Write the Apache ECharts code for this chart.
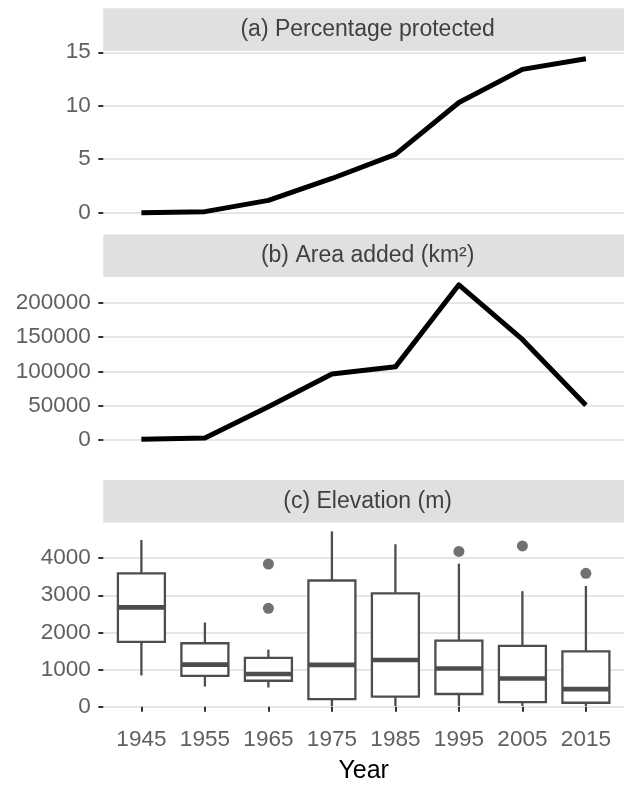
<!DOCTYPE html>
<html>
<head>
<meta charset="utf-8">
<script src="https://cdn.jsdelivr.net/npm/echarts@6/dist/echarts.min.js"></script>
<style>
  html, body { margin: 0; padding: 0; background: #fff; }
  #chart { width: 624px; height: 785px; }
</style>
</head>
<body>
<div id="chart"></div>
<script>
// Decades on the x axis
const years = [1945, 1955, 1965, 1975, 1985, 1995, 2005, 2015];

// (a) cumulative percentage of land protected
const pctProtected = [0, 0.1, 1.15, 3.2, 5.45, 10.3, 13.4, 14.4];

// (b) area added per decade, km²
const areaAdded = [1000, 2900, 48500, 96000, 106500, 226000, 146500, 50500];

// (c) elevation summary per decade, metres
const whiskerLow  = [840, 540, 515, 15, 15, 20, 20, 15];
const q1          = [1745, 828, 697, 200, 270, 340, 122, 105];
const median      = [2675, 1133, 880, 1124, 1255, 1028, 758, 471];
const q3          = [3590, 1708, 1316, 3399, 3050, 1778, 1638, 1490];
const whiskerHigh = [4488, 2266, 1534, 4723, 4375, 3852, 3111, 3251];
const outlierYears  = [1965, 1965, 1995, 2005, 2015];
const outlierValues = [3843, 2649, 4183, 4331, 3591];

// Tick labels
const xTicks = [1945, 1955, 1965, 1975, 1985, 1995, 2005, 2015];
const yTicksA = [0, 5, 10, 15];
const yTicksB = [0, 50000, 100000, 150000, 200000];
const yTicksC = [0, 1000, 2000, 3000, 4000];

const stripTitles = ['(a) Percentage protected', '(b) Area added (km²)', '(c) Elevation (m)'];

const FONT = "'Liberation Sans', Arial, Helvetica, sans-serif";
const GRID_LEFT = 103.3;
const GRID_RIGHT = -8;
const STRIP_H = 42.7;

const panels = [
  { top: 51.0, height: 169.4, ymin: -0.72, ymax: 15.12, ticks: yTicksA },
  { top: 277.1, height: 169.9, ymin: -10250, ymax: 237250, ticks: yTicksB },
  { top: 522.6, height: 198.3, ymin: -225.6, ymax: 4958.6, ticks: yTicksC }
];

const boxData = years.map((y, i) => [y, whiskerLow[i], q1[i], median[i], q3[i], whiskerHigh[i]]);
const outlierData = outlierYears.map((y, i) => [y, outlierValues[i]]);

const chart = echarts.init(document.getElementById('chart'), null, { renderer: 'canvas' });

const grids = panels.map(p => ({
  left: GRID_LEFT, right: GRID_RIGHT, top: p.top, height: p.height, containLabel: false
}));

const xAxes = panels.map((p, i) => {
  const last = i === panels.length - 1;
  return {
    type: 'value', gridIndex: i, min: 1939, max: 2021,
    axisLine: { show: false },
    splitLine: { show: false },
    axisTick: {
      show: last, length: 5, customValues: xTicks,
      lineStyle: { color: '#333333', width: 2 }
    },
    axisLabel: {
      show: last, customValues: xTicks, margin: 13,
      color: '#606060', fontSize: 22.5, fontFamily: FONT,
      formatter: v => String(v)
    },
    name: last ? 'Year' : '',
    nameLocation: 'middle', nameGap: 44,
    nameTextStyle: { color: '#000', fontSize: 25, fontFamily: FONT }
  };
});

const yAxes = panels.map((p, i) => ({
  type: 'value', gridIndex: i, min: p.ymin, max: p.ymax,
  axisLine: { show: false },
  axisTick: {
    show: true, length: 5, customValues: p.ticks,
    lineStyle: { color: '#333333', width: 2 }
  },
  axisLabel: {
    customValues: p.ticks, margin: 12.5,
    color: '#606060', fontSize: 22.5, fontFamily: FONT,
    formatter: v => String(v)
  },
  splitLine: { show: true, lineStyle: { color: '#e6e6e6', width: 1.8 } }
}));

const BOX_COLOR = '#4d4d4d';
const BOX_WIDTH_YEARS = 7.4;

const series = [
  {
    type: 'line', xAxisIndex: 0, yAxisIndex: 0,
    data: years.map((y, i) => [y, pctProtected[i]]),
    showSymbol: false, symbol: 'none',
    lineStyle: { color: '#000', width: 5, join: 'round', cap: 'butt' },
    animation: false
  },
  {
    type: 'line', xAxisIndex: 1, yAxisIndex: 1,
    data: years.map((y, i) => [y, areaAdded[i]]),
    showSymbol: false, symbol: 'none',
    lineStyle: { color: '#000', width: 5, join: 'round', cap: 'butt' },
    animation: false
  },
  {
    type: 'custom', xAxisIndex: 2, yAxisIndex: 2,
    data: boxData,
    encode: { x: 0, y: [1, 2, 3, 4, 5] },
    renderItem: function (params, api) {
      const x = api.value(0);
      const lo = api.coord([x, api.value(1)]);
      const b1 = api.coord([x, api.value(2)]);
      const md = api.coord([x, api.value(3)]);
      const b3 = api.coord([x, api.value(4)]);
      const hi = api.coord([x, api.value(5)]);
      const half = api.size([BOX_WIDTH_YEARS, 0])[0] / 2;
      const cx = lo[0];
      const thin = { stroke: BOX_COLOR, lineWidth: 2.3, fill: null };
      return {
        type: 'group',
        children: [
          { type: 'line', shape: { x1: cx, y1: lo[1], x2: cx, y2: b1[1] }, style: thin },
          { type: 'line', shape: { x1: cx, y1: b3[1], x2: cx, y2: hi[1] }, style: thin },
          { type: 'rect', shape: { x: cx - half, y: b3[1], width: half * 2, height: b1[1] - b3[1] },
            style: { stroke: BOX_COLOR, lineWidth: 2.3, fill: '#ffffff' } },
          { type: 'line', shape: { x1: cx - half, y1: md[1], x2: cx + half, y2: md[1] },
            style: { stroke: BOX_COLOR, lineWidth: 4.6 } }
        ]
      };
    },
    animation: false
  },
  {
    type: 'scatter', xAxisIndex: 2, yAxisIndex: 2,
    data: outlierData,
    symbol: 'circle', symbolSize: 11,
    itemStyle: { color: BOX_COLOR },
    animation: false
  }
];

// Grey facet strips with their titles
const graphics = [];
panels.forEach((p, i) => {
  const top = p.top - STRIP_H;
  graphics.push({
    type: 'rect', left: GRID_LEFT, top: top, silent: true,
    shape: { width: 624 - GRID_LEFT, height: STRIP_H },
    style: { fill: '#e0e0e0' }, z: 0
  });
  graphics.push({
    type: 'text', silent: true,
    x: (GRID_LEFT + 624 - GRID_RIGHT) / 2, y: top + STRIP_H / 2,
    style: {
      text: stripTitles[i], fill: '#404040', fontSize: 23, fontFamily: FONT,
      align: 'center', verticalAlign: 'middle'
    }, z: 1
  });
});

chart.setOption({
  backgroundColor: '#ffffff',
  animation: false,
  grid: grids,
  xAxis: xAxes,
  yAxis: yAxes,
  series: series,
  graphic: graphics
});
</script>
</body>
</html>
